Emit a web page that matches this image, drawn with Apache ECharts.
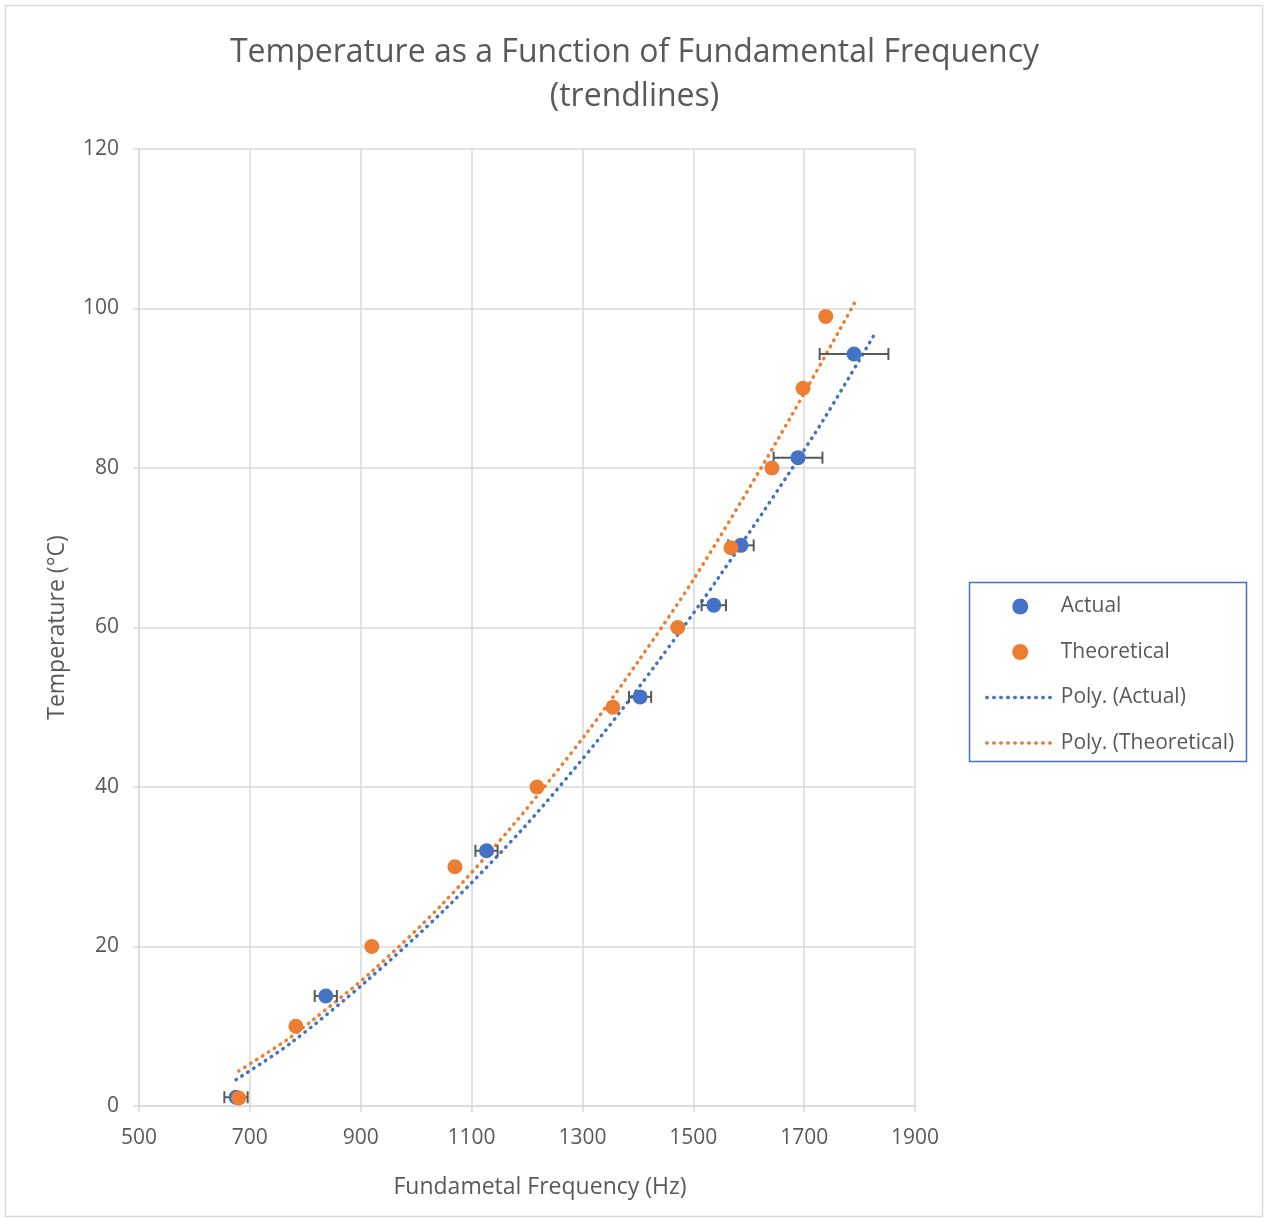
<!DOCTYPE html>
<html>
<head>
<meta charset="utf-8">
<script src="https://cdn.jsdelivr.net/npm/echarts@6/dist/echarts.min.js"></script>
<style>
html,body{margin:0;padding:0;background:#fff;}
#chart{width:1269px;height:1219px;}
</style>
</head>
<body>
<div id="chart"></div>
<script>
// ---- Data ----
const actualFreq = [675, 837, 1127, 1404, 1537, 1586, 1689, 1790];
const actualTemp = [1.1, 13.8, 32.0, 51.3, 62.8, 70.3, 81.3, 94.3];
const actualErr  = [21, 20, 20, 20, 22, 23, 44, 62];

const theoFreq = [680, 783, 920, 1070, 1218, 1355, 1472, 1568, 1642, 1698, 1739];
const theoTemp = [1, 10, 20, 30, 40, 50, 60, 70, 80, 90, 99];

// trendline points
const polyActualFreq = [675, 774, 911, 1054, 1198, 1334, 1433, 1546, 1720, 1828];
const polyActualTemp = [3.3, 7.9, 15.7, 24.8, 35.2, 46.4, 55.4, 66.3, 84.4, 96.9];
const polyTheoFreq = [680, 767, 814, 919, 1047, 1177, 1308, 1402, 1503, 1656, 1795];
const polyTheoTemp = [4.4, 8.3, 10.8, 16.8, 25.3, 35.4, 46.8, 55.9, 66.3, 84.0, 101.2];

const xTicks = {min: 500, max: 1900, interval: 200};
const yTicks = {min: 0, max: 120, interval: 20};

const titleText = 'Temperature as a Function of Fundamental Frequency\n(trendlines)';
const xName = 'Fundametal Frequency (Hz)';
const yName = 'Temperature (°C)';
const seriesNames = ['Actual', 'Theoretical', 'Poly. (Actual)', 'Poly. (Theoretical)'];

// ---- Build ----
const zip = (a, b) => a.map((v, i) => [v, b[i]]);
const FONT = '"Open Sans", "Noto Sans", sans-serif';
const TXT = '#595959';
const GRID = '#D9D9D9';
const BLUE = '#4472C4';
const ORANGE = '#ED7D31';

const errData = actualFreq.map((f, i) => [f, actualTemp[i], actualErr[i]]);

const chart = echarts.init(document.getElementById('chart'), null, {renderer: 'canvas'});
const dotted = {width: 3.5, type: [0.5, 6.5], cap: 'round'};

chart.setOption({
  animation: false,
  backgroundColor: '#fff',
  textStyle: {fontFamily: FONT},
  title: {
    text: titleText,
    left: 'center',
    top: 26,
    textStyle: {fontFamily: FONT, fontSize: 32, fontWeight: 'normal', color: TXT, lineHeight: 44}
  },
  grid: {left: 139, right: 354, top: 149, bottom: 113, containLabel: false},
  xAxis: {
    type: 'value',
    min: xTicks.min, max: xTicks.max, interval: xTicks.interval,
    name: xName, nameLocation: 'middle', nameGap: 70,
    nameTextStyle: {fontFamily: FONT, fontSize: 23, color: TXT, padding: [0, 0, 0, 26]},
    axisLine: {show: true, lineStyle: {color: GRID, width: 1.5}},
    axisTick: {show: true, length: 6, lineStyle: {color: GRID, width: 1.5}},
    axisLabel: {fontFamily: FONT, fontSize: 21, color: TXT, margin: 22, formatter: v => String(v)},
    splitLine: {show: true, lineStyle: {color: GRID, width: 1.5}}
  },
  yAxis: {
    type: 'value',
    min: yTicks.min, max: yTicks.max, interval: yTicks.interval,
    name: yName, nameLocation: 'middle', nameGap: 70,
    nameTextStyle: {fontFamily: FONT, fontSize: 23, color: TXT},
    axisLine: {show: true, lineStyle: {color: GRID, width: 1.5}},
    axisTick: {show: true, length: 6, lineStyle: {color: GRID, width: 1.5}},
    axisLabel: {fontFamily: FONT, fontSize: 21, color: TXT, margin: 20, formatter: v => String(v)},
    splitLine: {show: true, lineStyle: {color: GRID, width: 1.5}}
  },
  legend: {
    orient: 'vertical',
    left: 985, top: 596,
    padding: 0,
    itemWidth: 67, itemHeight: 16, itemGap: 24.5,
    textStyle: {fontFamily: FONT, fontSize: 21, color: TXT, padding: [0, 0, 0, 2]},
    data: [
      {name: seriesNames[0]},
      {name: seriesNames[1]},
      {name: seriesNames[2], itemStyle: {opacity: 0}, lineStyle: {width: 3.5, type: [0.5, 6.5], cap: 'round'}},
      {name: seriesNames[3], itemStyle: {opacity: 0}, lineStyle: {width: 3.5, type: [0.5, 6.5], cap: 'round'}}
    ]
  },
  graphic: [
    {type: 'rect', silent: true, z: -10,
     shape: {x: 5.5, y: 5.5, width: 1257, height: 1211},
     style: {fill: 'none', stroke: GRID, lineWidth: 1.5}},
    {type: 'rect', silent: true,
     shape: {x: 969.5, y: 582.5, width: 277, height: 179},
     style: {fill: 'none', stroke: BLUE, lineWidth: 1.5}}
  ],
  series: [
    {
      name: seriesNames[2], type: 'line', data: zip(polyActualFreq, polyActualTemp),
      smooth: 0.3, showSymbol: false, symbol: 'none', z: 2,
      itemStyle: {color: BLUE},
      lineStyle: Object.assign({color: BLUE}, dotted)
    },
    {
      name: seriesNames[3], type: 'line', data: zip(polyTheoFreq, polyTheoTemp),
      smooth: 0.3, showSymbol: false, symbol: 'none', z: 2,
      itemStyle: {color: ORANGE},
      lineStyle: Object.assign({color: ORANGE}, dotted)
    },
    {
      name: 'errorbars', type: 'custom', z: 3,
      data: errData,
      renderItem: function (params, api) {
        const f = api.value(0), t = api.value(1), e = api.value(2);
        const p1 = api.coord([f - e, t]);
        const p2 = api.coord([f + e, t]);
        const h = 6;
        const st = {stroke: '#595959', lineWidth: 2};
        return {
          type: 'group',
          children: [
            {type: 'line', shape: {x1: p1[0], y1: p1[1], x2: p2[0], y2: p2[1]}, style: st},
            {type: 'line', shape: {x1: p1[0], y1: p1[1] - h, x2: p1[0], y2: p1[1] + h}, style: st},
            {type: 'line', shape: {x1: p2[0], y1: p2[1] - h, x2: p2[0], y2: p2[1] + h}, style: st}
          ]
        };
      }
    },
    {
      name: seriesNames[0], type: 'scatter', data: zip(actualFreq, actualTemp),
      symbol: 'circle', symbolSize: 15, z: 4,
      itemStyle: {color: BLUE, opacity: 1}
    },
    {
      name: seriesNames[1], type: 'scatter', data: zip(theoFreq, theoTemp),
      symbol: 'circle', symbolSize: 15, z: 5,
      itemStyle: {color: ORANGE, opacity: 1}
    }
  ]
});
</script>
</body>
</html>
